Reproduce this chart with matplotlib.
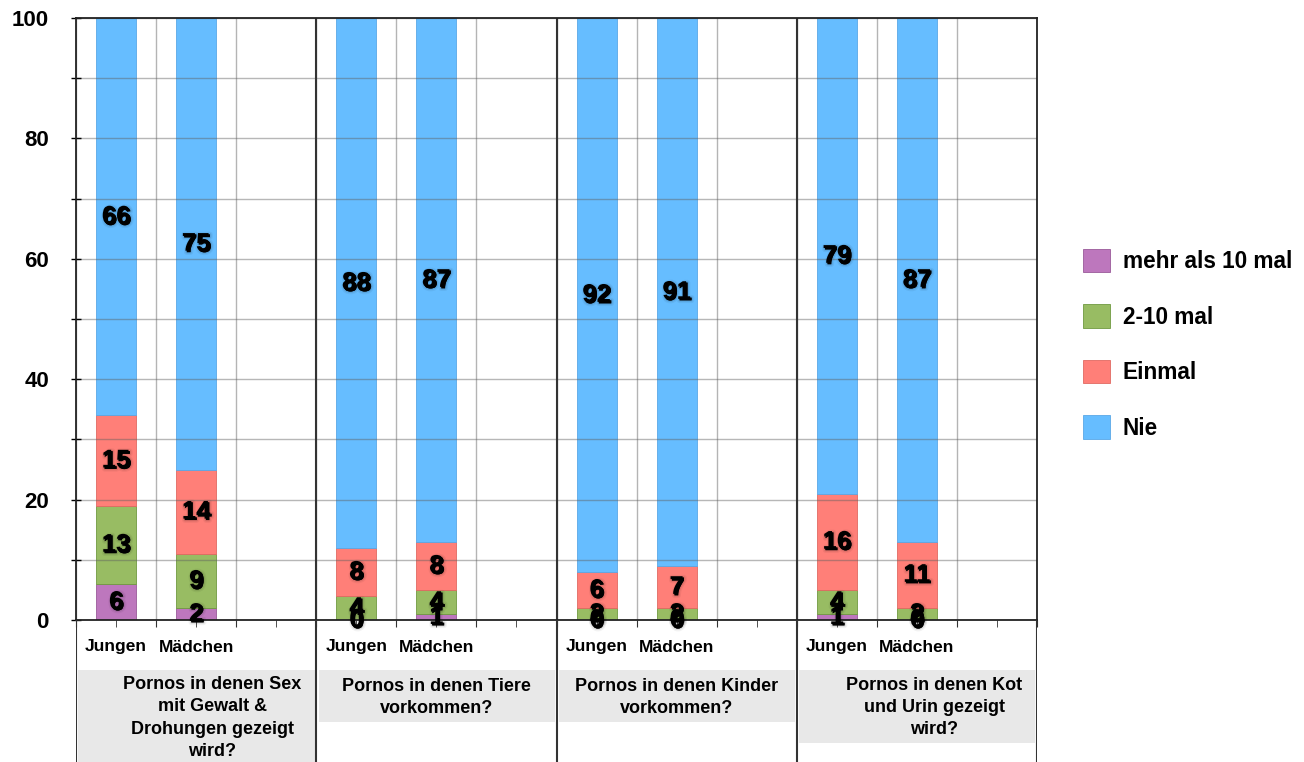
import numpy as np
import matplotlib
matplotlib.use('Agg')
import matplotlib.pyplot as plt
import matplotlib.patheffects as pe
from matplotlib.patches import Rectangle
from matplotlib.ticker import MultipleLocator

plt.rcParams['font.family'] = ['Liberation Sans', 'DejaVu Sans']
plt.rcParams['font.weight'] = 'bold'

# survey categories (one block per question) and respondents
questions = ["Pornos in denen Sex\nmit Gewalt &\nDrohungen gezeigt\nwird?",
             "Pornos in denen Tiere\nvorkommen?",
             "Pornos in denen Kinder\nvorkommen?",
             "Pornos in denen Kot\nund Urin gezeigt\nwird?"]
genders = ["Jungen", "Mädchen"]
series_names = ["mehr als 10 mal", "2-10 mal", "Einmal", "Nie"]

# percentages, order: (question 1 Jungen, question 1 Mädchen, question 2 Jungen, ...)
mehr_als_10 = [6, 2, 0, 1, 0, 0, 1, 0]
zwei_bis_10 = [13, 9, 4, 4, 2, 2, 4, 2]
einmal = [15, 14, 8, 8, 6, 7, 16, 11]
nie = [66, 75, 88, 87, 92, 91, 79, 87]

colors = ['#bd77bd', '#98bc63', '#ff7f78', '#66bdff']
edges = ['#9a5a9a', '#6f9a40', '#e06a62', '#5aa8e6']

slots_per_group = 3
n_groups = len(questions)

fig = plt.figure(figsize=(13.04, 7.62), dpi=100)
W, H = 1304.0, 762.0
ax = fig.add_axes([76 / W, (H - 620) / H, 961 / W, 602 / H])
ax.set_xlim(0, slots_per_group * n_groups)
ax.set_ylim(0, 100)

xpos = np.array([g * slots_per_group + i + 0.5
                 for g in range(n_groups) for i in range(len(genders))])

# soft drop shadow behind the value labels
shadow = [pe.Stroke(linewidth=4, foreground=(0, 0, 0, 0.05), offset=(1, -1)),
          pe.Stroke(linewidth=2, foreground=(0, 0, 0, 0.09), offset=(1, -1)),
          pe.Normal()]

bottom = np.zeros(len(xpos))
labels_to_draw = []
for vals, c, ec, name in zip([mehr_als_10, zwei_bis_10, einmal, nie], colors, edges, series_names):
    vals = np.array(vals, dtype=float)
    ax.bar(xpos, vals, width=0.5, bottom=bottom, color=c, edgecolor=ec,
           linewidth=0.6, zorder=2, label=name)
    for x, b, v in zip(xpos, bottom, vals):
        labels_to_draw.append((x, b + v / 2, int(v)))
    bottom = bottom + vals

for x, y, v in labels_to_draw:
    ax.text(x, y, str(v), ha='center', va='center', fontsize=18.5,
            fontweight='bold', zorder=6, clip_on=False, path_effects=shadow)

# grid
ax.yaxis.set_major_locator(MultipleLocator(20))
ax.yaxis.set_minor_locator(MultipleLocator(10))
ax.xaxis.set_major_locator(MultipleLocator(1))
ax.xaxis.set_minor_locator(MultipleLocator(0.5))
ax.grid(True, which='both', axis='y', color='#606060', alpha=0.45, lw=1, zorder=3)
ax.grid(True, which='major', axis='x', color='#b4b4b4', lw=1, zorder=1)
ax.set_axisbelow(False)
ax.set_xticklabels([])
ax.tick_params(axis='x', which='both', direction='out', length=5, color='#333333')
ax.tick_params(axis='y', which='both', direction='inout', length=7, width=1,
               labelsize=16, pad=16)
for lab in ax.get_yticklabels():
    lab.set_fontweight('bold')

for s in ax.spines.values():
    s.set_color('#222222')
    s.set_linewidth(1.3)
    s.set_zorder(4)

# group separators
for g in range(1, n_groups):
    ax.axvline(g * slots_per_group, color='#333333', lw=1.5, zorder=4)

# category area under the plot
ax2 = fig.add_axes([76 / W, 0, 961 / W, (H - 620) / H])
ax2.set_xlim(0, slots_per_group * n_groups)
ax2.set_ylim(142, 0)
ax2.axis('off')
for g in range(n_groups + 1):
    ax2.axvline(g * slots_per_group, color='#333333', lw=1.5, zorder=3)

box_bottoms = [142, 102, 102, 123]
text_shift = [0.2, 0.0, 0.0, 0.22]
for g, (q, bb, sh) in enumerate(zip(questions, box_bottoms, text_shift)):
    x0 = g * slots_per_group
    ax2.add_patch(Rectangle((x0 + 0.03, 50), slots_per_group - 0.05, bb - 50,
                            facecolor='#e8e8e8', edgecolor='none', zorder=1))
    n_lines = q.count('\n') + 1
    ax2.text(x0 + slots_per_group / 2 + sh, 57 + 20.5 * n_lines / 2, q,
             ha='center', va='center', fontsize=13, fontweight='bold',
             linespacing=1.4, zorder=2)

for x, gname in zip(xpos, genders * n_groups):
    ax2.text(x, 27, gname, ha='center', va='center', fontsize=12.5, fontweight='bold')

# legend, top entry first
h, l = ax.get_legend_handles_labels()
fig.legend(h, l, loc='upper left', bbox_to_anchor=(1083 / W, 1 - 249 / H),
           bbox_transform=fig.transFigure, frameon=False, fontsize=16.3,
           handlelength=1.2, handleheight=1.2, handletextpad=0.55,
           labelspacing=1.38, borderpad=0, borderaxespad=0)

fig.savefig('out.png', dpi=100)
